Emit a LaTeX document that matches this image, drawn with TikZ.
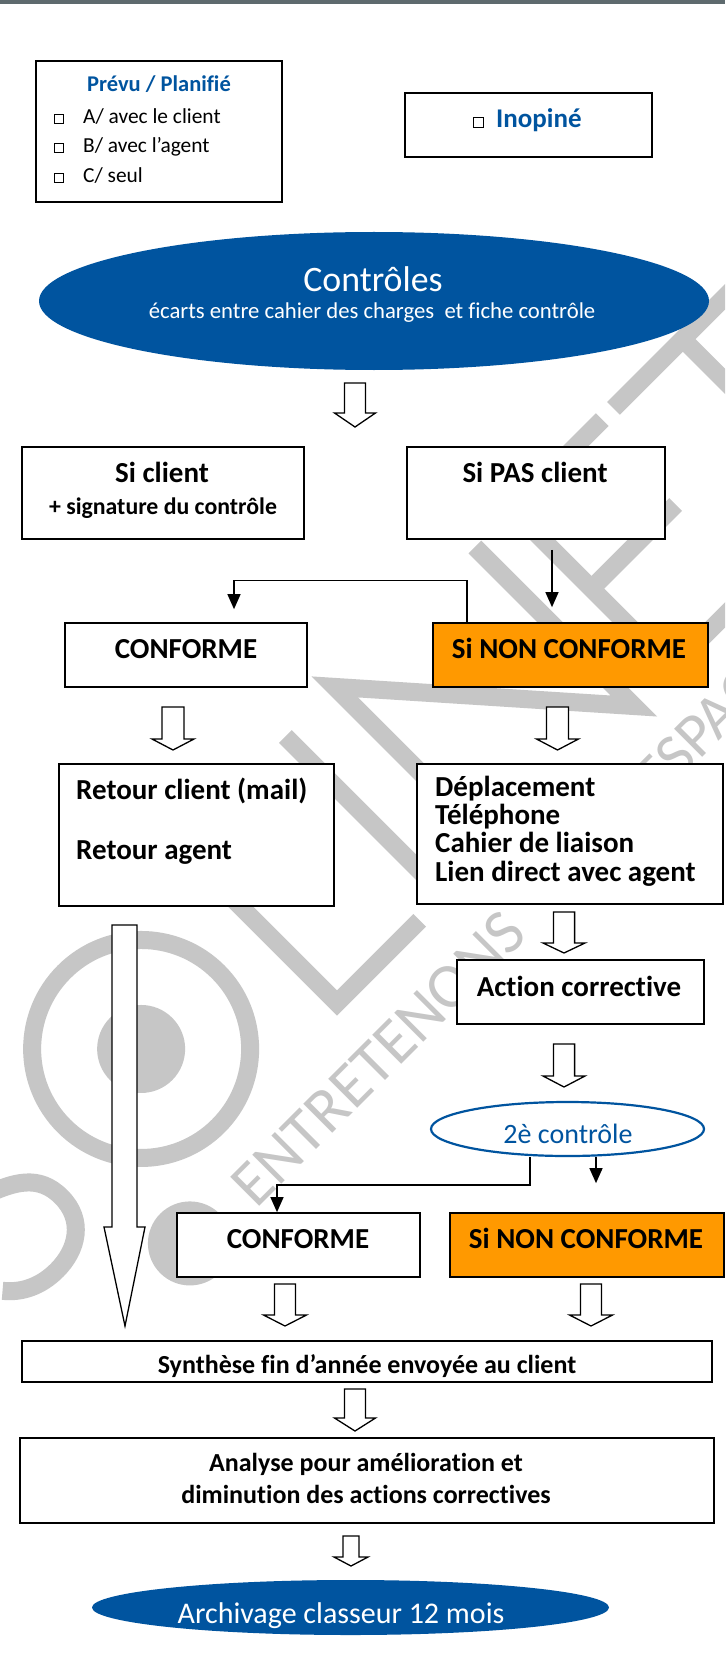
\documentclass[tikz,border=0pt]{standalone}
\usepackage{fontspec}
\setmainfont{Carlito}[Ligatures=NoCommon]
\usetikzlibrary{arrows.meta,shapes.geometric}
\definecolor{cblue}{HTML}{00549F}
\definecolor{corange}{HTML}{FF9900}
\definecolor{wmgray}{HTML}{C6C6C6}
\definecolor{topbar}{HTML}{5E6A6E}
\newcommand{\fs}[2]{\fontsize{#1}{#2}\selectfont}
\newcommand{\rbox}[6]{\node[#2, minimum width={(#5-#3)*1pt}, minimum height={(#6-#4)*1pt}] (#1) at ({(#3+#5)/2},{(#4+#6)/2}) {};}
\newcommand{\harrow}[6]{\draw[hollow] (#1-#5,#2) -- (#1+#5,#2) -- (#1+#5,#3) -- (#1+#6,#3) -- (#1,#4) -- (#1-#6,#3) -- (#1-#5,#3) -- cycle;}
\begin{document}
\begin{tikzpicture}[x=1pt,y=-1pt,
  box/.style={rectangle, draw=black, line width=1.7pt, fill=white, inner sep=0pt},
  obox/.style={box, fill=corange},
  lbl/.style={inner sep=0pt, anchor=base},
  lbll/.style={inner sep=0pt, anchor=base west},
  bl/.style={font=\bfseries\fs{29}{33}},
  conn/.style={line width=1.3pt, -{Triangle[length=15pt,width=13pt]}},
  hollow/.style={draw=black, line width=1.3pt, fill=white, line join=miter},
  chk/.style={draw=black, line width=0.8pt, minimum size=9pt, inner sep=0pt, rectangle},
  wm/.style={draw=wmgray, line width=18pt, line cap=butt, line join=miter},
  wmtxt/.style={inner sep=0pt, anchor=base west, rotate=45, text=wmgray, font=\fs{62}{70}},
]
\useasboundingbox (0,0) rectangle (725,1677);
\fill[white] (0,0) rectangle (725,1677);
\fill[topbar] (0,0) rectangle (725,4.5);

% ---------- watermark ----------
\begin{scope}
\clip (0,5) rectangle (725,1677);
\begin{scope}[shift={(337,1003)}, x=1pt, y=1pt, rotate=45]
  \draw[wm] (-335,200) .. controls (-350,214) and (-365,216) .. (-385,216)
     .. controls (-415,216) and (-438,198) .. (-438,168)
     .. controls (-438,135) and (-410,122) .. (-385,113)
     .. controls (-355,102) and (-332,90) .. (-332,58)
     .. controls (-332,25) and (-358,9) .. (-387,9)
     .. controls (-410,9) and (-428,18) .. (-440,33);
  \draw[wm] (-171,106) circle[radius=109];
  \fill[wmgray] (-171,106) circle[radius=44];
  \fill[wmgray] (-274,-66) circle[radius=42];
  \draw[wm] (0,225) -- (0,0) -- (117,0);
  \draw[wm] (152,0) -- (152,225);
  \draw[wm] (222,0) -- (222,225) -- (420,0) -- (420,225);
  \draw[wm] (600,225) -- (473,225) -- (473,0) -- (600,0);
  \draw[wm] (473,113) -- (592,113);
  \draw[wm] (616,225) -- (812,225);
  \draw[wm] (714,225) -- (714,0);
\end{scope}
\node[wmtxt, font=\fs{64}{70}] (wmt1) at (256,1210) {ENTRETENONS};
\node[wmtxt] (wmt2) at (658,802) {ESPACE};
\end{scope}

% ---------- top boxes ----------
\rbox{prevu}{box}{36}{61}{282}{202}
\node[lbl, text=cblue, font=\bfseries\fs{22.5}{26}] (tprevu) at (159,92) {Prévu / Planifié};
\node[chk] (cka) at (59,118.5) {};
\node[chk] (ckb) at (59,148) {};
\node[chk] (ckc) at (59,177.5) {};
\node[lbll, font=\fs{21.4}{25}] (ta) at (83,124) {A/ avec le client};
\node[lbll, font=\fs{21.4}{25}] (tb) at (83,153) {B/ avec l’agent};
\node[lbll, font=\fs{21.4}{25}] (tc) at (83,183) {C/ seul};

\rbox{inop}{box}{405}{93}{652}{157}
\node[chk, minimum size=10pt] (cki) at (478,122) {};
\node[lbll, text=cblue, font=\bfseries\fs{27}{31}] (tinop) at (496,128) {Inopiné};

% ---------- Contrôles ----------
\node[ellipse, fill=cblue, minimum width=670pt, minimum height=138pt, inner sep=0pt] (ctrl) at (374,301) {};
\node[lbl, text=white, font=\fs{35.8}{42}] (tctrl) at (373,292) {Contrôles};
\node[lbl, text=white, font=\fs{22.7}{27}] (tecart) at (372,319) {écarts entre cahier des charges~ et fiche contrôle};

\harrow{355}{383}{413}{427}{10.5}{20.5}

\rbox{sicl}{box}{22}{447}{304}{539}
\node[lbl, bl] (tsicl) at (162,482) {Si client};
\node[lbl, font=\bfseries\fs{23.8}{28}] (tsign) at (163,514) {+ signature du contrôle};
\rbox{sipas}{box}{407}{447}{665}{539}
\node[lbl, bl] (tsipas) at (535,482) {Si PAS client};

\rbox{conf1}{box}{65}{623}{307}{687}
\node[lbl, bl] (tconf1) at (186,658) {CONFORME};
\rbox{ncf1}{obox}{433}{623}{708}{687}
\node[lbl, bl] (tncf1) at (569,658) {Si NON CONFORME};

\draw[conn, shorten >=15pt] ([xshift=16pt,yshift=-10pt]sipas.south) -- ([xshift=16pt]sipas.south |- ncf1.north);
\draw[conn] ([xshift=-103.5pt]ncf1.north) -- ++(0,-42) -| ([xshift=48pt,yshift=13pt]conf1.north);

\harrow{173}{707}{739}{750}{11}{21}
\harrow{557.5}{707}{739}{750}{11}{21}

\rbox{retour}{box}{59}{764}{334}{906}
\node[lbll, bl] (tret1) at (76,799) {Retour client (mail)};
\node[lbll, bl] (tret2) at (76,859) {Retour agent};

\rbox{depl}{box}{417}{764}{723}{904}
\node[lbll, bl] (td1) at (435,796) {Déplacement};
\node[lbll, bl] (td2) at (435,824) {Téléphone};
\node[lbll, bl] (td3) at (435,852) {Cahier de liaison};
\node[lbll, bl] (td4) at (435,881) {Lien direct avec agent};

\harrow{564}{912}{943}{953}{10.6}{21}
\rbox{action}{box}{457}{960}{704}{1024}
\node[lbl, bl] (tact) at (579,996) {Action corrective};
\harrow{564}{1044}{1076}{1087}{10.6}{21}

\node[ellipse, draw=cblue, line width=2.2pt, fill=white, minimum width=273pt, minimum height=54pt, inner sep=0pt] (ctrl2) at (567.5,1129) {};
\node[lbl, text=cblue, font=\fs{28}{32}] (tctrl2) at (568,1143) {2è contrôle};

\rbox{conf2}{box}{177}{1213}{420}{1277}
\node[lbl, bl] (tconf2) at (298,1248) {CONFORME};
\rbox{ncf2}{obox}{450}{1213}{724}{1277}
\node[lbl, bl] (tncf2) at (586,1248) {Si NON CONFORME};

\draw[conn] ([xshift=-37.5pt]ctrl2.south) -- ++(0,28) -| ([xshift=-21.5pt]conf2.north);
\draw[conn, shorten >=29pt] ([xshift=28.5pt]ctrl2.south) -- ([xshift=9pt]ncf2.north);

% long arrow
\draw[hollow] (112,925) -- (137,925) -- (137,1227) -- (145,1227) -- (125,1326) -- (104,1227) -- (112,1227) -- cycle;

\harrow{285}{1284}{1315}{1326}{10.5}{21.5}
\harrow{591}{1284}{1315}{1326}{10.5}{21.5}

\rbox{synth}{box}{22}{1341}{712}{1382}
\node[lbl, font=\bfseries\fs{26}{30}] (tsynth) at (367,1373) {Synthèse fin d’année envoyée au client};

\harrow{355}{1389}{1418}{1431}{10.5}{20.5}

\rbox{analyse}{box}{20}{1438}{714}{1523}
\node[lbl, font=\bfseries\fs{26}{30}] (tan1) at (366,1471) {Analyse pour amélioration et};
\node[lbl, font=\bfseries\fs{26}{30}] (tan2) at (366,1503) {diminution des actions correctives};

\harrow{351}{1536}{1557}{1566}{8}{17}

\node[ellipse, fill=cblue, minimum width=517pt, minimum height=55pt, inner sep=0pt] (arch) at (350.5,1607.5) {};
\node[lbl, text=white, font=\fs{30}{34}] (tarch) at (341,1623) {Archivage classeur 12 mois};
\end{tikzpicture}
\end{document}
